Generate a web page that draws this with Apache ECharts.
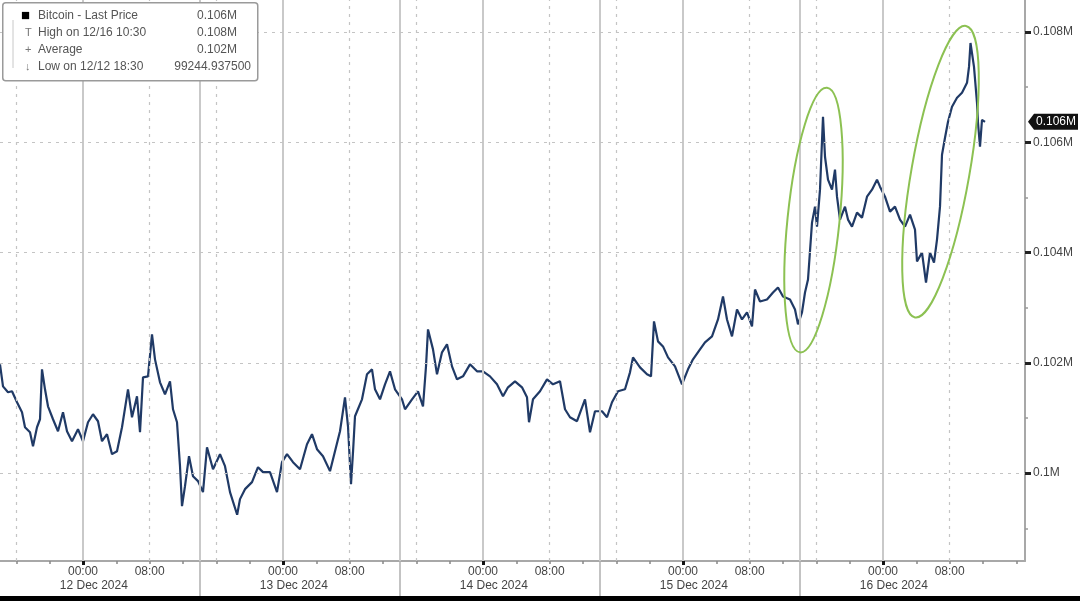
<!DOCTYPE html>
<html>
<head>
<meta charset="utf-8">
<script src="https://cdn.jsdelivr.net/npm/echarts@6/dist/echarts.min.js"></script>
<style>
html, body { margin: 0; padding: 0; background: #fff; }
#chart { width: 1080px; height: 601px; }
</style>
</head>
<body>
<div id="chart"></div>
<script>
// hours after 12 Dec 2024 00:00
var hours = [
    -9.96, -9.6, -9.0, -8.52, -7.92, -7.32, -6.96, -6.36, -6.0, -5.52, -5.16, -4.92, -4.56, -4.2, -3.6, -3.0, -2.4, -1.92, -1.32, -0.6,
    0, 0.6, 1.2, 1.8, 2.28, 2.88, 3.48, 4.08, 4.68, 5.4, 5.88, 6.48, 6.84, 7.2, 7.8, 8.28, 8.64, 9.24, 9.84, 10.44,
    10.8, 11.28, 11.64, 11.88, 12.24, 12.72, 13.2, 13.8, 14.4, 14.88, 15.6, 16.44, 17.04, 17.64, 18.5, 18.84, 19.44, 20.28, 21.0, 21.6,
    22.44, 23.28, 23.88,
    24.48, 25.2, 26.04, 26.88, 27.48, 28.08, 28.8, 29.64, 30.24, 30.84, 31.44, 31.8, 32.16, 32.4, 32.64, 33.48, 34.08, 34.68, 35.04, 35.64,
    36.24, 36.84, 37.44, 38.28, 38.64, 39.48, 40.2, 40.8, 41.16, 41.4, 42.0, 42.48, 43.08, 43.68, 44.28, 44.88, 45.6, 46.44, 47.28,
    48.0, 48.84, 49.68, 50.4, 51.0, 51.84, 52.68, 53.28, 53.52, 54.0, 54.84, 55.68, 56.4, 57.24, 57.84, 58.44, 59.28, 60.24, 60.84, 61.44,
    62.28, 62.88, 63.48, 64.2, 65.04, 65.64, 66.0, 66.84, 67.68, 68.16, 68.52, 69.0, 69.6, 70.2, 71.04, 71.88,
    72.6, 73.2, 74.04, 74.64, 75.48, 76.2, 76.8, 77.28, 77.88, 78.48, 79.08, 79.68, 80.28, 80.64, 81.24, 82.08, 82.8, 83.4, 84.0, 84.84,
    85.44, 85.8, 86.28, 86.64, 87.0, 87.48, 87.84, 88.08, 88.44, 88.8, 89.04, 89.4, 89.88, 90.24, 90.48, 90.84, 91.44, 91.8, 92.28, 92.88,
    93.48, 94.08, 94.68, 95.28, 95.64,
    96.24, 96.84, 97.44, 98.04, 98.64, 99.24, 99.84, 100.08, 100.68, 101.16, 101.64, 102.12, 102.48, 102.84, 103.08, 103.44, 103.8, 104.28, 104.88, 105.48,
    106.08, 106.32, 106.5, 106.92, 107.28, 107.4, 107.64, 107.88, 108.24
];
var prices = [
    101973, 101574, 101466, 101484, 101285, 101104, 100832, 100742, 100488, 100832, 100977, 101882, 101520, 101212, 100977, 100760, 101104, 100760, 100579, 100796,
    100579, 100923, 101068, 100941, 100579, 100706, 100344, 100398, 100832, 101520, 101013, 101393, 100742, 101737, 101755, 102516, 102063, 101647, 101430, 101665,
    101158, 100923, 100126, 99402, 99764, 100307, 99945, 99855, 99656, 100470, 100072, 100344, 100126, 99656, 99245, 99529, 99710, 99837, 100108, 100018,
    100018, 99656, 100199,
    100344, 100199, 100072, 100525, 100706, 100434, 100307, 100036, 100398, 100760, 101375, 100850, 99801, 100380, 101031, 101339, 101792, 101882, 101520, 101339,
    101611, 101846, 101520, 101339, 101158, 101339, 101484, 101212, 101936, 102606, 102244, 101792, 102190, 102335, 101936, 101701, 101755, 101973, 101846,
    101846, 101755, 101611, 101393, 101556, 101665, 101556, 101375, 100923, 101339, 101484, 101701, 101611, 101665, 101158, 101013, 100941, 101339, 100742, 101122,
    101122, 101013, 101285, 101484, 101520, 101828, 102099, 101918, 101792, 101755, 102751, 102389, 102298, 102099, 101936, 101611,
    101882, 102063, 102244, 102371, 102479, 102787, 103203, 102787, 102479, 102968, 102787, 102914, 102660, 103330, 103113, 103149, 103276, 103366, 103203, 103149,
    102968, 102697, 102914, 103276, 103511, 104543, 104832, 104470, 105140, 106461, 105737, 105321, 105140, 105502, 105013, 104597, 104832, 104597, 104470, 104724,
    104633, 105013, 105140, 105321, 105194,
    105013, 104742, 104832, 104597, 104470, 104688, 104416, 103837, 104000, 103457, 104000, 103819, 104235, 104832, 105774, 106081, 106371, 106642, 106805, 106896,
    107077, 107366, 107800, 107366, 106715, 106353, 105918, 106407, 106370
];

var yLabelValues = [100000, 102000, 104000, 106000, 108000];
var yMinorValues = [99000, 101000, 103000, 105000, 107000];
var timeLabelHours = [0, 8, 24, 32, 48, 56, 72, 80, 96, 104];
var tickHours = [-8, -4, 4, 8, 12, 16, 20, 28, 32, 36, 40, 44, 52, 56, 60, 64, 68, 76, 80, 84, 88, 92, 100, 104, 108, 112];
var midnightHours = [0, 24, 48, 72, 96];
var sessionHours = [14, 38, 62, 86];
var dashedHours = [-8, 8, 16, 32, 40, 56, 64, 80, 88, 104];
var dayLabels = ['12 Dec 2024', '13 Dec 2024', '14 Dec 2024', '15 Dec 2024', '16 Dec 2024'];
var dayLabelHours = [1.3, 25.3, 49.3, 73.3, 97.3];

var legendNames = ['Bitcoin - Last Price', 'High on 12/16 10:30', 'Average', 'Low on 12/12 18:30'];
var legendValues = ['0.106M', '0.108M', '0.102M', '99244.937500'];
var legendIcons = ['\u25A0', 'T', '+', '\u2193'];

// green highlight ellipses: [hour, price] at top and bottom ends
var highlightTops = [[89.28, 106986], [105.96, 108109]];
var highlightBottoms = [[86.04, 102190], [99.84, 102823]];

var FONT = 'Liberation Sans';
var xMin = -9.96, xMax = 113.04;
var yMin = 98407, yMax = 108579;

var chart = echarts.init(document.getElementById('chart'), null, {renderer: 'canvas'});

var gridLines = [];
midnightHours.concat(sessionHours).forEach(function (h) {
    gridLines.push({xAxis: h, lineStyle: {color: '#c9c9c9', width: 2, type: 'solid'}});
});
dashedHours.forEach(function (h) {
    gridLines.push({xAxis: h, lineStyle: {color: '#c4c4c4', width: 1.2, type: [3, 5]}});
});
yLabelValues.forEach(function (v) {
    gridLines.push({yAxis: v, lineStyle: {color: '#c4c4c4', width: 1.2, type: [3, 5]}});
});

var seriesData = hours.map(function (h, i) { return [h, prices[i]]; });

var option = {
    animation: false,
    backgroundColor: '#fff',
    textStyle: {fontFamily: FONT},
    grid: {left: 0, right: 55, top: 0, bottom: 40, containLabel: false},
    xAxis: [
        {
            type: 'value', min: xMin, max: xMax,
            axisLine: {onZero: false, lineStyle: {color: '#a8a8a8', width: 2}},
            axisTick: {customValues: tickHours, length: 3, lineStyle: {color: '#888', width: 1.5}},
            axisLabel: {
                customValues: timeLabelHours, color: '#444', fontSize: 12, margin: 5,
                formatter: function (v) {
                    var hh = ((v % 24) + 24) % 24;
                    return (hh < 10 ? '0' : '') + hh + ':00';
                }
            },
            splitLine: {show: false}
        },
        {
            type: 'value', min: xMin, max: xMax, position: 'bottom',
            axisLine: {show: false, onZero: false},
            axisTick: {customValues: sessionHours, length: 36, lineStyle: {color: '#b0b0b0', width: 1.5}},
            axisLabel: {
                customValues: dayLabelHours, color: '#444', fontSize: 12, margin: 19,
                formatter: function (v) { return dayLabels[dayLabelHours.indexOf(v)]; }
            },
            splitLine: {show: false}
        },
        {
            // midnight tick dots on the time axis
            type: 'value', min: xMin, max: xMax, position: 'bottom',
            axisLine: {show: false, onZero: false},
            axisTick: {customValues: midnightHours, length: 4, lineStyle: {color: '#111', width: 3}},
            axisLabel: {show: false},
            splitLine: {show: false}
        }
    ],
    yAxis: [
        {
            type: 'value', position: 'right', min: yMin, max: yMax,
            axisLine: {show: true, onZero: false, lineStyle: {color: '#a8a8a8', width: 2}},
            axisTick: {customValues: yLabelValues, length: 6, lineStyle: {color: '#222', width: 3}},
            axisLabel: {
                customValues: yLabelValues, color: '#444', fontSize: 12, margin: 8,
                formatter: function (v) { return (v / 1e6) + 'M'; }
            },
            splitLine: {show: false}
        },
        {
            type: 'value', position: 'right', min: yMin, max: yMax,
            axisLine: {show: false, onZero: false},
            axisTick: {customValues: yMinorValues, length: 3, lineStyle: {color: '#999', width: 1.5}},
            axisLabel: {show: false},
            splitLine: {show: false}
        }
    ],
    series: [
        {
            name: 'grid',
            type: 'line',
            data: [],
            z: 1,
            silent: true,
            markLine: {
                silent: true,
                symbol: ['none', 'none'],
                label: {show: false},
                data: gridLines
            }
        },
        {
            name: 'Bitcoin',
            type: 'line',
            data: seriesData,
            z: 3,
            showSymbol: false,
            lineStyle: {color: '#203a66', width: 2.2},
            itemStyle: {color: '#203a66'}
        }
    ]
};
chart.setOption(option);

// overlay: legend box, highlight ellipses, last price tag, bottom bar
var graphics = [];

graphics.push({
    type: 'rect', left: 2, top: 2, z: 50,
    shape: {width: 255, height: 78, r: 3},
    style: {fill: '#fff', stroke: '#9a9a9a', lineWidth: 1.5}
});
graphics.push({
    type: 'line', z: 51,
    shape: {x1: 13, y1: 20, x2: 13, y2: 68},
    style: {stroke: '#c8c8c8', lineWidth: 1}
});
legendNames.forEach(function (name, i) {
    var cy = 16 + i * 17;
    graphics.push({
        type: 'text', x: i === 0 ? 21 : 25, y: cy, z: 52,
        style: {text: legendIcons[i], font: (i === 0 ? '15px ' : '11px ') + FONT, fill: i === 0 ? '#000' : '#777', verticalAlign: 'middle'}
    });
    graphics.push({
        type: 'text', x: 38, y: cy, z: 52,
        style: {text: name, font: '12px ' + FONT, fill: '#555', verticalAlign: 'middle'}
    });
    graphics.push({
        type: 'text', x: i === 3 ? 251 : 237, y: cy, z: 52,
        style: {text: legendValues[i], font: '12px ' + FONT, fill: '#555', align: 'right', verticalAlign: 'middle'}
    });
});

highlightTops.forEach(function (top, i) {
    var p1 = chart.convertToPixel({seriesIndex: 1}, top);
    var p2 = chart.convertToPixel({seriesIndex: 1}, highlightBottoms[i]);
    var dx = p1[0] - p2[0];
    var dy = p2[1] - p1[1];
    var halfLen = Math.sqrt(dx * dx + dy * dy) / 2;
    graphics.push({
        type: 'ellipse', z: 40,
        x: (p1[0] + p2[0]) / 2, y: (p1[1] + p2[1]) / 2,
        rotation: -Math.atan2(dx, dy),
        shape: {cx: 0, cy: 0, rx: i === 0 ? 26 : 29, ry: halfLen},
        style: {fill: 'none', stroke: '#8cc152', lineWidth: 2}
    });
});

var last = seriesData[seriesData.length - 1];
var lp = chart.convertToPixel({seriesIndex: 1}, last);
graphics.push({
    type: 'polygon', z: 60,
    shape: {points: [[1028, lp[1]], [1034, lp[1] - 8], [1078, lp[1] - 8], [1078, lp[1] + 8], [1034, lp[1] + 8]]},
    style: {fill: '#111'}
});
graphics.push({
    type: 'text', x: 1056, y: lp[1], z: 61,
    style: {text: (last[1] / 1e6).toFixed(3) + 'M', font: '12px ' + FONT, fill: '#fff', align: 'center', verticalAlign: 'middle'}
});

graphics.push({
    type: 'rect', left: 0, top: 596, z: 70,
    shape: {width: 1080, height: 5},
    style: {fill: '#000'}
});

chart.setOption({graphic: graphics});
</script>
</body>
</html>
